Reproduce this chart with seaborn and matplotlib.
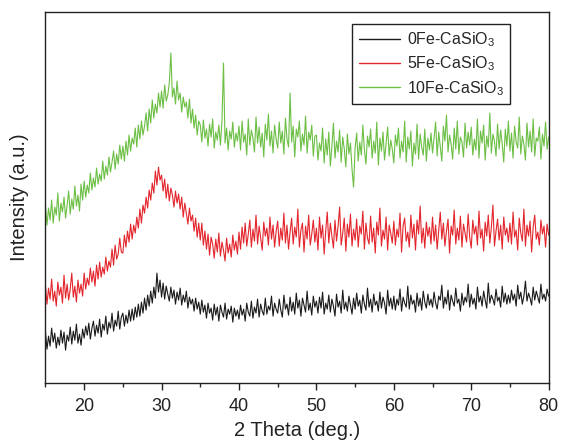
import numpy as np
import pandas as pd
import seaborn as sns
import matplotlib
matplotlib.use("Agg")
import matplotlib.pyplot as plt
from matplotlib.ticker import MultipleLocator

# 2-theta grid (deg), 0.2 deg step from 15 to 80
two_theta = np.round(np.arange(15.0, 80.0001, 0.2), 2)

fe0 = [
    51, 34, 47, 37, 55, 41, 50, 35, 46, 38, 53, 40, 51, 33, 48, 42, 56, 39, 52, 43, 59, 40, 49, 38, 54,
    45, 57, 48, 60, 44, 55, 62, 47, 58, 50, 64, 46, 59, 53, 67, 49, 61, 55, 70, 52, 63, 57, 72, 54, 66,
    70, 57, 68, 60, 73, 62, 74, 63, 76, 66, 79, 67, 81, 70, 85, 73, 88, 77, 92, 80, 96, 85, 110, 91, 103,
    86, 100, 84, 97, 89, 82, 96, 85, 93, 79, 91, 83, 95, 78, 88, 81, 92, 75, 86, 79, 84, 72, 85, 74, 81,
    69, 83, 71, 78, 65, 80, 70, 75, 63, 79, 68, 76, 62, 78, 71, 66, 80, 64, 74, 69, 77, 61, 75, 67, 73,
    64, 78, 68, 74, 62, 80, 71, 67, 82, 65, 76, 70, 84, 66, 79, 72, 68, 85, 69, 77, 73, 87, 67, 80, 74,
    70, 84, 73, 66, 88, 74, 79, 68, 86, 72, 81, 69, 90, 75, 83, 67, 85, 78, 71, 92, 73, 80, 68, 87, 76,
    82, 70, 86, 75, 91, 69, 80, 74, 88, 71, 84, 77, 67, 89, 76, 82, 70, 93, 74, 81, 72, 87, 78, 69, 85,
    74, 90, 77, 83, 70, 88, 79, 73, 95, 76, 84, 71, 89, 78, 82, 72, 91, 75, 86, 80, 69, 93, 77, 85, 74,
    87, 73, 84, 78, 94, 72, 86, 80, 76, 97, 74, 88, 79, 83, 71, 90, 77, 85, 73, 92, 81, 75, 89, 78, 84,
    76, 91, 80, 74, 87, 83, 98, 75, 86, 79, 93, 73, 88, 82, 77, 95, 80, 84, 72, 90, 78, 86, 81, 99, 76,
    89, 79, 85, 74, 96, 81, 87, 77, 92, 83, 75, 100, 80, 88, 84, 78, 94, 82, 86, 76, 97, 81, 90, 79, 88,
    80, 93, 83, 89, 77, 98, 84, 91, 79, 87, 102, 82, 90, 85, 78, 96, 83, 92, 86, 80, 99, 84, 89, 82, 94,
    87,
]

fe5 = [
    98, 79, 95, 84, 104, 82, 92, 77, 101, 88, 96, 80, 108, 85, 99, 83, 94, 110, 86, 97, 81, 103, 90, 99, 87,
    110, 94, 105, 98, 115, 101, 112, 97, 118, 104, 121, 106, 116, 109, 126, 112, 122, 116, 134, 118, 138, 124, 129, 145, 131,
    130, 148, 136, 152, 141, 159, 144, 158, 150, 166, 155, 174, 160, 178, 170, 186, 175, 193, 183, 200, 190, 212, 198, 216, 203,
    208, 192, 204, 185, 199, 182, 195, 188, 176, 192, 180, 189, 174, 186, 166, 180, 170, 159, 175, 162, 168, 152, 165, 146, 160,
    143, 160, 138, 152, 134, 149, 128, 146, 139, 125, 144, 131, 150, 127, 141, 133, 122, 145, 130, 139, 126, 148, 133, 142, 129,
    151, 134, 156, 140, 160, 137, 149, 163, 136, 154, 142, 168, 139, 157, 145, 133, 161, 147, 155, 138, 166, 144, 158, 136, 152,
    162, 137, 155, 143, 170, 140, 158, 134, 151, 165, 139, 156, 146, 174, 136, 153, 160, 131, 157, 144, 168, 138, 149, 163, 141,
    155, 133, 166, 145, 158, 129, 152, 171, 140, 160, 147, 135, 163, 142, 157, 176, 138, 150, 165, 132, 159, 146, 169, 137, 154,
    143, 164, 136, 157, 149, 172, 134, 160, 145, 139, 167, 141, 155, 130, 161, 148, 175, 137, 153, 144, 166, 133, 158, 150, 140,
    162, 138, 154, 146, 170, 131, 157, 165, 142, 151, 136, 168, 145, 159, 133, 163, 149, 177, 140, 155, 135, 161, 147, 156, 139,
    166, 142, 158, 134, 153, 171, 144, 160, 137, 152, 164, 130, 157, 148, 173, 139, 155, 143, 167, 136, 159, 150, 141, 169, 146,
    135, 163, 149, 157, 138, 172, 145, 154, 132, 161, 147, 168, 140, 156, 178, 137, 152, 164, 143, 158, 134, 166, 148, 155, 141,
    160, 139, 171, 146, 153, 133, 165, 150, 142, 174, 137, 158, 147, 162, 131, 156, 168, 144, 151, 138, 163, 149, 157, 136, 159,
    148,
]

fe10 = [
    178, 158, 175, 163, 183, 160, 176, 168, 190, 162, 180, 171, 186, 165, 178, 192, 169, 184, 174, 197, 177, 188, 172, 199, 183,
    202, 186, 198, 190, 210, 193, 205, 196, 215, 199, 209, 202, 222, 204, 217, 208, 226, 211, 221, 232, 214, 229, 219, 238, 224,
    237, 222, 242, 228, 248, 232, 245, 239, 255, 236, 258, 244, 262, 248, 257, 270, 252, 274, 260, 283, 265, 279, 270, 290, 276,
    292, 275, 298, 282, 288, 300, 330, 286, 295, 279, 302, 283, 290, 271, 286, 276, 281, 265, 284, 260, 274, 255, 268, 248, 262,
    258, 241, 263, 245, 254, 237, 259, 246, 264, 235, 251, 243, 258, 238, 262, 320, 240, 255, 233, 252, 244, 261, 236, 250, 242,
    257, 233, 262, 241, 249, 228, 264, 238, 253, 245, 231, 266, 240, 256, 236, 250, 226, 259, 243, 269, 237, 252, 230, 258, 244,
    235, 261, 240, 252, 229, 265, 244, 236, 290, 241, 257, 226, 254, 246, 262, 232, 249, 238, 267, 230, 251, 243, 258, 227, 247,
    248, 223, 240, 232, 255, 220, 244, 228, 251, 217, 237, 260, 225, 242, 231, 253, 221, 246, 234, 216, 249, 229, 240, 214, 196,
    235, 250, 222, 241, 228, 258, 233, 219, 247, 236, 254, 225, 242, 230, 261, 218, 245, 232, 251, 223, 239, 256, 227, 243, 234,
    220, 248, 237, 255, 225, 242, 231, 262, 221, 246, 234, 252, 217, 240, 229, 259, 224, 249, 236, 228, 254, 222, 245, 233, 250,
    230, 245, 261, 227, 251, 236, 222, 257, 242, 268, 231, 248, 239, 224, 255, 234, 262, 229, 246, 241, 226, 260, 235, 251, 238,
    256, 228, 244, 233, 264, 225, 252, 240, 258, 223, 247, 236, 270, 230, 249, 242, 227, 259, 234, 253, 239, 221, 254, 237, 262,
    232, 250, 225, 257, 241, 235, 266, 229, 247, 239, 223, 260, 236, 252, 231, 264, 227, 245, 242, 256, 224, 249, 237, 261, 234,
    246,
]

labels = ["0Fe-CaSiO$_3$", "5Fe-CaSiO$_3$", "10Fe-CaSiO$_3$"]
colors = ["#1a1a1a", "#e3262d", "#6cbf45"]
xticks = [20, 30, 40, 50, 60, 70, 80]

for s in (fe0, fe5, fe10):
    assert len(s) == len(two_theta), (len(s), len(two_theta))

sns.set_style("ticks")
plt.rcParams["font.family"] = ["Liberation Sans", "DejaVu Sans"]
plt.rcParams["mathtext.fontset"] = "custom"
plt.rcParams["mathtext.rm"] = "Liberation Sans"

fig = plt.figure(figsize=(5.61, 4.45), dpi=100)
ax = fig.add_axes([0.081, 0.139, 0.897, 0.834])

for ys, lab, col in zip([fe0, fe5, fe10], labels, colors):
    sns.lineplot(x=two_theta, y=np.array(ys, dtype=float), ax=ax, color=col,
                 linewidth=0.8, label=lab, estimator=None)

ax.set_xlim(15, 80)
ax.set_ylim(0, 371)
ax.set_xticks(xticks)
ax.set_xticklabels([str(t) for t in xticks])
ax.xaxis.set_minor_locator(MultipleLocator(5))
ax.set_yticks([])
ax.tick_params(axis="x", which="major", direction="out", length=5, width=1,
               labelsize=13, pad=6, colors="#222222")
ax.tick_params(axis="x", which="minor", direction="out", length=3, width=1)
for s in ax.spines.values():
    s.set_visible(True)
    s.set_linewidth(1.0)
    s.set_color("#222222")

ax.set_xlabel("2 Theta (deg.)", fontsize=14.5, labelpad=4, color="#222222")
ax.set_ylabel("Intensity (a.u.)", fontsize=14.5, labelpad=12, color="#222222")

leg = ax.legend(loc="upper right", bbox_to_anchor=(0.923, 0.968), fontsize=11.5,
                frameon=True, fancybox=False, edgecolor="#222222", framealpha=1,
                handlelength=2.6, handletextpad=0.4, labelspacing=0.35,
                borderpad=0.4, borderaxespad=0)
leg.get_frame().set_linewidth(1.0)
for h in leg.get_lines():
    h.set_linewidth(1.0)

fig.savefig("out.png", dpi=100)
